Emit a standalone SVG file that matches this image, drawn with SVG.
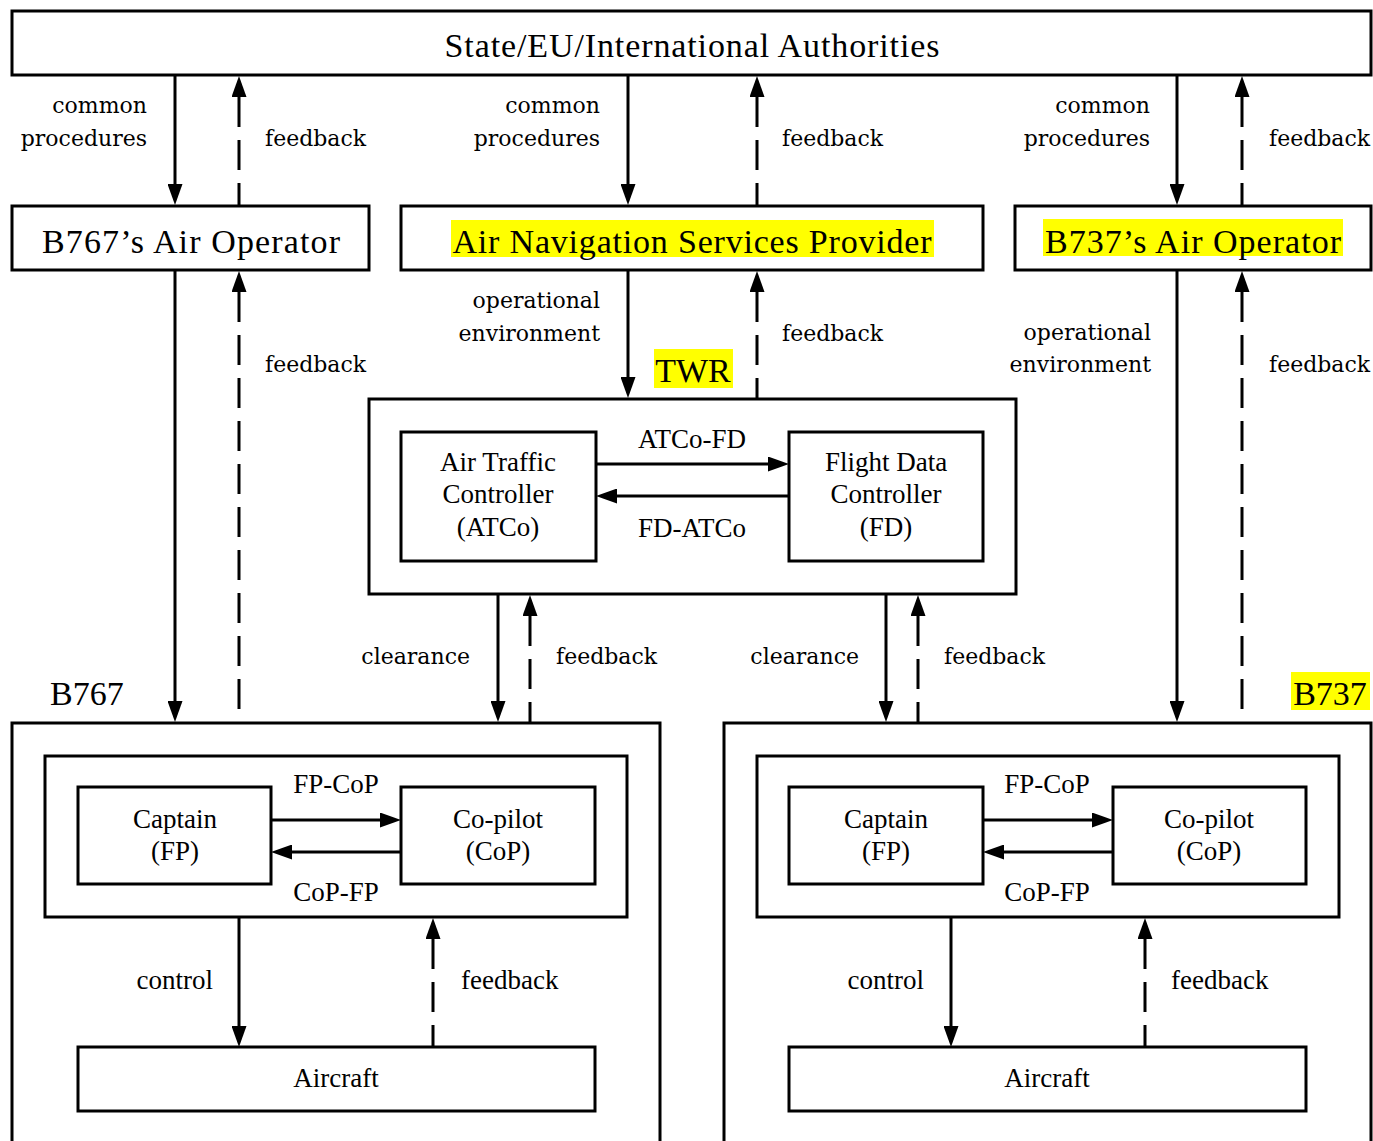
<svg xmlns="http://www.w3.org/2000/svg" width="1373" height="1141" viewBox="0 0 1373 1141">
<style>
.box{fill:#fff;stroke:#000;stroke-width:3}
.hl{fill:#ffff00;stroke:none}
.big{font-family:"Liberation Serif","Times New Roman",serif;font-size:34px;fill:#000}
.nd{font-family:"Liberation Serif","Times New Roman",serif;font-size:27px;fill:#000}
.lbl{font-family:"DejaVu Serif","Liberation Serif",serif;font-size:22px;fill:#000}
.c{text-anchor:middle}
.e{text-anchor:end}
.conn path{fill:none;stroke:#000;stroke-width:3}
.conn path.dash{stroke-dasharray:30 13}
</style>
<defs>
<marker id="ah" viewBox="0 0 21 15" refX="0" refY="7.5" markerWidth="21" markerHeight="15" markerUnits="userSpaceOnUse" orient="auto-start-reverse">
<path d="M0,0 L21,7.5 L0,15 z" fill="#000"/>
</marker>
</defs>
<rect width="1373" height="1141" fill="#fff"/>

<g id="authorities">
<rect class="box" x="12" y="11" width="1359" height="64"/>
<text class="big c" x="692" y="57" textLength="495" lengthAdjust="spacing">State/EU/International Authorities</text>
</g>

<g id="b767-operator">
<rect class="box" x="12" y="206" width="357" height="64"/>
<text class="big c" x="191" y="253" textLength="298" lengthAdjust="spacing">B767’s Air Operator</text>
</g>

<g id="ansp">
<rect class="box" x="401" y="206" width="582" height="64"/>
<rect class="hl" x="451" y="220" width="483" height="37"/>
<text class="big c" x="692" y="253" textLength="479" lengthAdjust="spacing">Air Navigation Services Provider</text>
</g>

<g id="b737-operator">
<rect class="box" x="1015" y="206" width="356" height="64"/>
<rect class="hl" x="1043" y="219" width="300" height="37"/>
<text class="big c" x="1193" y="253" textLength="296" lengthAdjust="spacing">B737’s Air Operator</text>
</g>

<g id="twr">
<rect class="hl" x="654" y="349" width="79" height="39"/>
<text class="big c" x="693" y="382">TWR</text>
<rect class="box" x="369" y="399" width="647" height="195"/>
</g>

<g id="atco">
<rect class="box" x="401" y="432" width="195" height="129"/>
<text class="nd c" x="498" y="471">Air Traffic</text>
<text class="nd c" x="498" y="503">Controller</text>
<text class="nd c" x="498" y="536">(ATCo)</text>
</g>

<g id="fd">
<rect class="box" x="789" y="432" width="194" height="129"/>
<text class="nd c" x="886" y="471">Flight Data</text>
<text class="nd c" x="886" y="503">Controller</text>
<text class="nd c" x="886" y="536">(FD)</text>
</g>

<g id="b767">
<text class="big" x="50" y="705">B767</text>
<rect class="box" x="12" y="723" width="648" height="440"/>
<rect class="box" x="45" y="756" width="582" height="161"/>
</g>
<g id="b767-captain">
<rect class="box" x="78" y="787" width="193" height="97"/>
<text class="nd c" x="175" y="828">Captain</text>
<text class="nd c" x="175" y="860">(FP)</text>
</g>
<g id="b767-copilot">
<rect class="box" x="401" y="787" width="194" height="97"/>
<text class="nd c" x="498" y="828">Co-pilot</text>
<text class="nd c" x="498" y="860">(CoP)</text>
</g>
<g id="b767-aircraft">
<rect class="box" x="78" y="1047" width="517" height="64"/>
<text class="nd c" x="336" y="1087">Aircraft</text>
</g>

<g id="b737">
<rect class="hl" x="1291" y="672" width="79" height="38"/>
<text class="big c" x="1330" y="705">B737</text>
<rect class="box" x="724" y="723" width="647" height="440"/>
<rect class="box" x="757" y="756" width="582" height="161"/>
</g>
<g id="b737-captain">
<rect class="box" x="789" y="787" width="194" height="97"/>
<text class="nd c" x="886" y="828">Captain</text>
<text class="nd c" x="886" y="860">(FP)</text>
</g>
<g id="b737-copilot">
<rect class="box" x="1113" y="787" width="193" height="97"/>
<text class="nd c" x="1209" y="828">Co-pilot</text>
<text class="nd c" x="1209" y="860">(CoP)</text>
</g>
<g id="b737-aircraft">
<rect class="box" x="789" y="1047" width="517" height="64"/>
<text class="nd c" x="1047" y="1087">Aircraft</text>
</g>

<g id="connectors" class="conn">
<!-- authorities to operators/ANSP -->
<path d="M175,75 V184" marker-end="url(#ah)"/>
<path class="dash" d="M239,97 V206" marker-start="url(#ah)"/>
<path d="M628,75 V184" marker-end="url(#ah)"/>
<path class="dash" d="M757,97 V206" marker-start="url(#ah)"/>
<path d="M1177,75 V184" marker-end="url(#ah)"/>
<path class="dash" d="M1242,97 V206" marker-start="url(#ah)"/>
<!-- operators to aircraft crews -->
<path d="M175,270 V701" marker-end="url(#ah)"/>
<path class="dash" d="M239,292 V723" marker-start="url(#ah)"/>
<path d="M1177,270 V701" marker-end="url(#ah)"/>
<path class="dash" d="M1242,292 V723" marker-start="url(#ah)"/>
<!-- ANSP to TWR -->
<path d="M628,270 V377" marker-end="url(#ah)"/>
<path class="dash" d="M757,292 V399" marker-start="url(#ah)"/>
<!-- TWR internal -->
<path d="M596,464 H768" marker-end="url(#ah)"/>
<path d="M789,496 H617" marker-end="url(#ah)"/>
<!-- TWR to aircraft -->
<path d="M498,594 V701" marker-end="url(#ah)"/>
<path class="dash" d="M530,616 V723" marker-start="url(#ah)"/>
<path d="M886,594 V701" marker-end="url(#ah)"/>
<path class="dash" d="M918,616 V723" marker-start="url(#ah)"/>
<!-- B767 crew -->
<path d="M271,820 H380" marker-end="url(#ah)"/>
<path d="M401,852 H292" marker-end="url(#ah)"/>
<path d="M239,917 V1026" marker-end="url(#ah)"/>
<path class="dash" d="M433,939 V1047" marker-start="url(#ah)"/>
<!-- B737 crew -->
<path d="M983,820 H1092" marker-end="url(#ah)"/>
<path d="M1113,852 H1004" marker-end="url(#ah)"/>
<path d="M951,917 V1026" marker-end="url(#ah)"/>
<path class="dash" d="M1145,939 V1047" marker-start="url(#ah)"/>

<g id="connector-labels">
<text class="lbl e" x="147" y="113">common</text>
<text class="lbl e" x="147" y="146">procedures</text>
<text class="lbl" x="265" y="146">feedback</text>
<text class="lbl e" x="600" y="113">common</text>
<text class="lbl e" x="600" y="146">procedures</text>
<text class="lbl" x="782" y="146">feedback</text>
<text class="lbl e" x="1150" y="113">common</text>
<text class="lbl e" x="1150" y="146">procedures</text>
<text class="lbl" x="1269" y="146">feedback</text>
<text class="lbl" x="265" y="372">feedback</text>
<text class="lbl e" x="600" y="308">operational</text>
<text class="lbl e" x="600" y="341">environment</text>
<text class="lbl" x="782" y="341">feedback</text>
<text class="lbl e" x="1151" y="340">operational</text>
<text class="lbl e" x="1151" y="372">environment</text>
<text class="lbl" x="1269" y="372">feedback</text>
<text class="nd c" x="692" y="448">ATCo-FD</text>
<text class="nd c" x="692" y="537">FD-ATCo</text>
<text class="lbl e" x="470" y="664">clearance</text>
<text class="lbl" x="556" y="664">feedback</text>
<text class="lbl e" x="859" y="664">clearance</text>
<text class="lbl" x="944" y="664">feedback</text>
<text class="nd c" x="336" y="793">FP-CoP</text>
<text class="nd c" x="336" y="901">CoP-FP</text>
<text class="nd e" x="213" y="989">control</text>
<text class="nd" x="461" y="989">feedback</text>
<text class="nd c" x="1047" y="793">FP-CoP</text>
<text class="nd c" x="1047" y="901">CoP-FP</text>
<text class="nd e" x="924" y="989">control</text>
<text class="nd" x="1171" y="989">feedback</text>
</g>
</g>
</svg>
